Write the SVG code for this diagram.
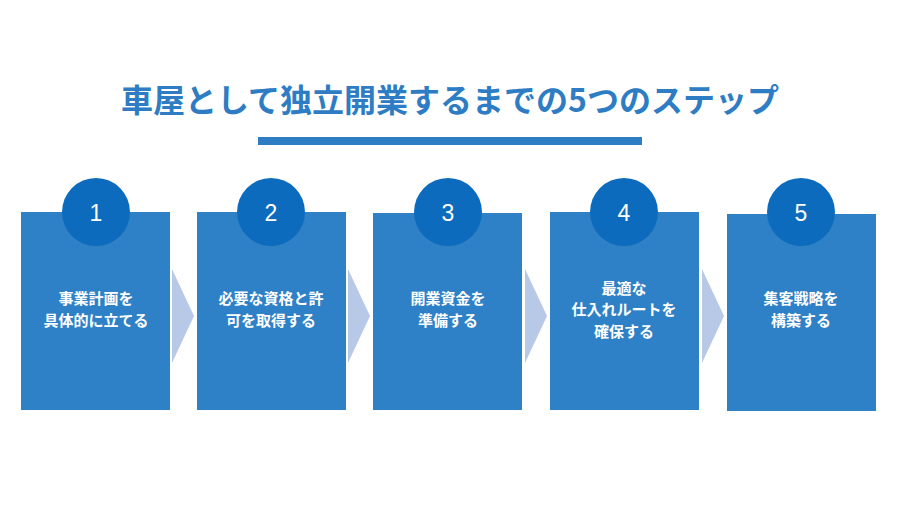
<svg xmlns="http://www.w3.org/2000/svg" width="900" height="506" viewBox="0 0 900 506">
<style>
.box{fill:#2E81C6}
.cir{fill:#0D6BBE}
.chev{fill:#B7C9E6}
.num{font-family:"Liberation Sans","Noto Sans CJK JP",sans-serif;font-size:23px;fill:#fff;text-anchor:middle}
.lbl{font-family:"Noto Sans CJK JP",sans-serif;font-size:15px;font-weight:bold;fill:#fff;text-anchor:middle}
.title{font-family:"Noto Sans CJK JP",sans-serif;font-size:32px;font-weight:bold;fill:#2E7DC4;text-anchor:middle}
</style>
<rect width="900" height="506" fill="#fff"/>
<text class="title" x="450" y="112">車屋として独立開業するまでの5つのステップ</text>
<rect x="258" y="137" width="384" height="8" fill="#2E7DC4"/>
<g id="connectors">
<polygon class="chev" points="172,269 194,316 172,363"/>
<polygon class="chev" points="348,269 370,316 348,363"/>
<polygon class="chev" points="525,269 547,316 525,363"/>
<polygon class="chev" points="702,269 724,316 702,363"/>
</g>
<g id="step1"><rect class="box" x="21" y="212" width="149" height="198"/><circle class="cir" cx="96" cy="212" r="34"/><text class="num" x="96" y="221">1</text><text class="lbl" x="96" y="304">事業計画を</text><text class="lbl" x="96" y="326">具体的に立てる</text></g>
<g id="step2"><rect class="box" x="197" y="212" width="149" height="198"/><circle class="cir" cx="271" cy="212" r="34"/><text class="num" x="271" y="221">2</text><text class="lbl" x="271" y="304">必要な資格と許</text><text class="lbl" x="271" y="326">可を取得する</text></g>
<g id="step3"><rect class="box" x="373" y="213" width="149" height="197"/><circle class="cir" cx="448" cy="212" r="34"/><text class="num" x="448" y="221">3</text><text class="lbl" x="448" y="304">開業資金を</text><text class="lbl" x="448" y="326">準備する</text></g>
<g id="step4"><rect class="box" x="550" y="212" width="149" height="198"/><circle class="cir" cx="624" cy="212" r="34"/><text class="num" x="624" y="221">4</text><text class="lbl" x="624" y="294">最適な</text><text class="lbl" x="624" y="315">仕入れルートを</text><text class="lbl" x="624" y="337">確保する</text></g>
<g id="step5"><rect class="box" x="727" y="214" width="149" height="197"/><circle class="cir" cx="801" cy="212" r="34"/><text class="num" x="801" y="221">5</text><text class="lbl" x="801" y="304">集客戦略を</text><text class="lbl" x="801" y="326">構築する</text></g>
</svg>
